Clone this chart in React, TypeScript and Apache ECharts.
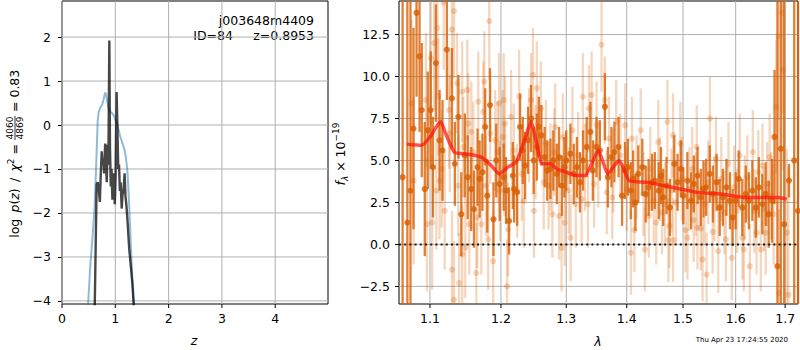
import React, { useEffect, useRef } from "react";
import * as echarts from "echarts";

// ---------- Left panel: log p(z) ----------
const zTicks = [0, 1, 2, 3, 4];
const logpTicks = [-4, -3, -2, -1, 0, 1, 2];
const priorZ = [0.45, 0.49, 0.53, 0.57, 0.61, 0.63, 0.65, 0.67, 0.69, 0.72, 0.75, 0.78, 0.81, 0.83, 0.86, 0.89, 0.93, 0.97, 1.01, 1.05, 1.09, 1.13, 1.17, 1.2, 1.23, 1.26, 1.29, 1.32, 1.345, 1.37];
const priorLogp = [-5, -4.07, -3.2, -2.6, -1.9, -1.3, -0.6, 0.1, 0.3, 0.4, 0.45, 0.58, 0.74, 0.68, 0.45, 0.32, 0.28, 0.22, 0.1, -0.05, -0.25, -0.4, -0.55, -0.75, -1.1, -1.8, -2.7, -3.5, -4.07, -5];
const pzZ = [0.6, 0.615, 0.63, 0.65, 0.67, 0.69, 0.71, 0.725, 0.745, 0.76, 0.775, 0.79, 0.81, 0.825, 0.84, 0.855, 0.87, 0.888, 0.9, 0.915, 0.93, 0.945, 0.96, 0.975, 0.99, 1.005, 1.025, 1.04, 1.055, 1.07, 1.085, 1.1, 1.12, 1.135, 1.155, 1.175, 1.19, 1.21, 1.23, 1.26, 1.29, 1.32, 1.345, 1.36];
const pzLogp = [-5, -4.07, -2.9, -1.35, -1.3, -1.45, -1.75, -1.2, -0.6, -0.9, -0.75, -1.1, -0.42, -0.9, -1.3, -0.45, -0.9, 1.92, -0.5, -1.4, -1.0, -1.7, -1.1, -1.25, -1.8, -1.2, 0.75, -0.1, -1.0, -0.9, -1.5, -1.3, -1.9, -1.6, -1.45, -1.1, -1.6, -1.85, -2.2, -2.8, -3.2, -3.6, -4.07, -5];

// ---------- Right panel: spectrum ----------
const lamTicks = [1.1, 1.2, 1.3, 1.4, 1.5, 1.6, 1.7];
const fluxTicks = [-2.5, 0, 2.5, 5, 7.5, 10, 12.5];
// [lambda, flux, error]
const darkPts: number[][] = [
  [1.0637, 4.0, 20], [1.0699, 1.3, 20], [1.0740, 3.2, 20], [1.078, 6.9, 6], [1.082, 13.8, 5],
  [1.086, 11.2, 4.5], [1.089, 8.0, 4], [1.093, 3.3, 4], [1.097, 6.8, 3.5], [1.101, 8.0, 3.5],
  [1.104, 4.6, 3], [1.108, 10.8, 3.5], [1.113, 6.2, 3], [1.117, 5.6, 3], [1.123, 11.6, 3], [1.130, 8.7, 3],
  [1.134, 4.8, 2.5], [1.139, 7.6, 2.5], [1.143, 1.8, 2.5], [1.148, 5.3, 2.5], [1.152, 4.0, 2.5], [1.157, 3.3, 2.5],
  [1.161, 2.1, 2.3], [1.166, 4.6, 2.3], [1.169, 3.9, 2.3], [1.173, 4.3, 2.3], [1.177, 7.0, 2.3], [1.180, 2.9, 2.2],
  [1.184, 8.3, 2.2], [1.189, 1.5, 2.2], [1.193, 5.0, 2.2], [1.198, 3.6, 2.2], [1.204, 4.0, 2], [1.2075, 3.2, 2],
  [1.212, 1.4, 2], [1.2175, 4.1, 2], [1.2195, 3.3, 2], [1.224, 3.1, 2], [1.2285, 7.0, 2], [1.2325, 5.6, 2],
  [1.236, 4.7, 2], [1.2405, 6.2, 2], [1.245, 7.5, 2], [1.249, 5.0, 2], [1.254, 5.8, 2], [1.257, 7.0, 1.8],
  [1.261, 6.5, 1.8], [1.266, 5.2, 1.8], [1.270, 4.4, 1.8], [1.275, 4.5, 1.8], [1.2795, 5.0, 1.8], [1.285, 4.2, 1.8],
  [1.2885, 5.2, 1.8], [1.293, 3.5, 1.8], [1.297, 4.6, 1.8], [1.300, 5.0, 1.8], [1.3066, 5.4, 1.8], [1.312, 4.2, 1.8],
  [1.317, 4.6, 1.8], [1.322, 3.7, 1.8], [1.327, 5.0, 1.8], [1.333, 5.8, 1.8], [1.339, 6.7, 1.8], [1.343, 4.4, 1.8],
  [1.349, 5.8, 1.8], [1.3546, 5.6, 1.8], [1.363, 8.2, 2], [1.368, 4.0, 1.8], [1.374, 5.2, 1.8], [1.379, 5.5, 1.8],
  [1.386, 5.8, 1.8], [1.392, 2.9, 1.8], [1.397, 4.4, 1.7], [1.402, 4.6, 1.7], [1.407, 3.2, 1.7], [1.411, 3.9, 1.7],
  [1.415, 2.5, 1.7], [1.420, 4.2, 1.7], [1.427, 4.6, 1.7], [1.433, 3.0, 1.7], [1.438, 3.4, 1.7], [1.444, 3.7, 1.7],
  [1.449, 3.8, 1.7], [1.456, 3.2, 1.7], [1.460, 4.1, 1.7], [1.464, 2.8, 1.7], [1.470, 3.5, 1.7], [1.476, 2.2, 1.7],
  [1.484, 4.8, 1.7], [1.490, 3.7, 1.7], [1.496, 4.5, 1.7], [1.5005, 2.9, 1.7], [1.508, 3.8, 1.7], [1.515, 2.6, 1.7],
  [1.520, 3.6, 1.7], [1.527, 4.1, 1.7], [1.533, 2.8, 1.7], [1.538, 3.3, 1.7], [1.543, 3.4, 1.7], [1.550, 4.2, 1.7],
  [1.556, 3.0, 1.7], [1.563, 3.7, 1.7], [1.569, 2.2, 1.7], [1.575, 2.8, 1.7], [1.582, 3.4, 1.7], [1.589, 2.6, 1.7],
  [1.594, 1.6, 1.7], [1.600, 2.6, 1.7], [1.606, 3.9, 1.7], [1.613, 2.2, 1.7], [1.620, 3.0, 1.7], [1.626, 2.6, 1.7],
  [1.633, 3.2, 1.8], [1.640, 2.2, 1.8], [1.646, 3.4, 1.8], [1.653, 2.4, 1.8], [1.660, 3.0, 1.9], [1.666, 1.8, 2],
  [1.673, 2.6, 2.5], [1.678, 6.4, 4], [1.684, -1.3, 25], [1.691, 5.7, 25], [1.698, 1.2, 25],
  [1.708, 3.8, 1.0], [1.719, 5.0, 30], [1.727, 2.0, 30],
];
const lightPts: number[][] = [
  [1.0753, 8.4, 5], [1.0781, 3.8, 5], [1.0945, 8.6, 4], [1.0959, 1.2, 4], [1.1014, 11.1, 4], [1.1029, 1.3, 4],
  [1.1057, 12.0, 4], [1.1086, 3.2, 3.5], [1.110, 12.9, 4], [1.1114, 8.8, 3.5], [1.1129, 3.8, 3.5], [1.116, 4.5, 3.5],
  [1.1186, 14.4, 4], [1.12, 2.0, 3.5], [1.126, 8.0, 3.5], [1.1271, 6.6, 3.5], [1.130, 12.8, 3.5], [1.130, -1.5, 3.5],
  [1.1329, 13.9, 4], [1.1329, -3.3, 3.5], [1.1371, 9.6, 3], [1.1386, 3.5, 3], [1.14, -2.3, 3], [1.1443, 9.1, 3],
  [1.1443, -0.6, 3], [1.1457, 5.8, 3], [1.1486, -0.2, 3], [1.1514, 9.2, 3], [1.1529, 7.2, 3], [1.1543, 1.2, 3],
  [1.1571, 6.7, 3], [1.16, 5.5, 3], [1.1643, -1.7, 3], [1.1657, 1.6, 3], [1.1671, 8.5, 3], [1.1714, 1.2, 3],
  [1.1743, 7.9, 3], [1.1757, 9.7, 3], [1.178, 3.5, 3], [1.1814, 0.3, 3], [1.1829, 13.3, 3.5], [1.1843, 6.6, 3],
  [1.1886, -1.0, 3], [1.1914, 6.2, 3], [1.195, 5.5, 3], [1.1971, 8.4, 3], [1.1986, 3.2, 3],
  [1.2025, 6.4, 2.8], [1.204, 8.6, 2.8], [1.205, 4.5, 2.8], [1.206, 7.2, 2.8], [1.209, -2.5, 2.8], [1.2105, 0.9, 2.8],
  [1.215, 7.6, 2.8], [1.219, 5.6, 2.8], [1.224, 3.2, 2.8], [1.227, 8.8, 2.8], [1.231, 4.2, 2.8], [1.234, 2.6, 2.8],
  [1.242, 6.5, 2.8], [1.245, 8.6, 2.8], [1.248, 10.1, 2.8], [1.2495, 2.0, 2.8], [1.252, 5.5, 2.8], [1.254, 9.3, 2.8],
  [1.260, 8.1, 2.8], [1.2645, 3.7, 2.8], [1.268, 6.0, 2.6], [1.272, 3.5, 2.6], [1.275, 4.6, 2.6], [1.278, 1.8, 2.6],
  [1.281, 5.5, 2.6], [1.2825, 7.0, 2.6], [1.2885, 1.7, 2.6], [1.2925, -0.2, 2.6], [1.2945, 6.4, 2.6], [1.2975, 1.3, 2.6],
  [1.299, 4.1, 2.6], [1.304, 3.2, 2.6], [1.307, 0.4, 2.6], [1.3098, 6.8, 2.6], [1.3152, 2.4, 2.6], [1.319, 5.3, 2.6],
  [1.3246, 2.7, 2.6], [1.3267, 8.8, 2.6], [1.330, 4.6, 2.6], [1.335, 2.4, 2.6], [1.3366, 8.1, 2.6], [1.341, 8.9, 2.6],
  [1.345, 3.6, 2.6], [1.3492, 7.1, 2.6], [1.352, 4.8, 2.6], [1.3574, 11.9, 2.8], [1.3628, 8.6, 2.6], [1.3661, 3.1, 2.5],
  [1.370, 6.3, 2.5], [1.3754, 2.8, 2.5], [1.377, 4.4, 2.5], [1.382, 7.3, 2.5], [1.389, 5.3, 2.5], [1.3972, 7.1, 2.5],
  [1.400, 3.3, 2.5], [1.4073, -0.5, 2.5], [1.409, 6.3, 2.5], [1.4133, 0.85, 2.5], [1.417, 4.0, 2.5], [1.4242, 6.8, 2.5],
  [1.429, 3.0, 2.5], [1.4315, -0.3, 2.5], [1.4387, 1.7, 2.5], [1.441, 4.5, 2.5], [1.447, 2.6, 2.5], [1.4515, 1.3, 2.5],
  [1.4551, 6.1, 2.5], [1.458, 3.9, 2.5], [1.4618, 1.9, 2.5], [1.467, 2.4, 2.5], [1.4715, 7.3, 2.5], [1.4733, 0.25, 2.5],
  [1.4751, 1.1, 2.5], [1.479, 3.2, 2.5], [1.4818, 6.5, 2.5], [1.4818, 0.25, 2.5], [1.487, 2.5, 2.5], [1.4951, 6.0, 2.5],
  [1.498, 3.9, 2.5], [1.5044, 0.85, 2.5], [1.5082, 0.4, 2.5], [1.512, 3.3, 2.5], [1.517, 4.5, 2.5], [1.5197, 1.45, 2.5],
  [1.5235, 3.0, 2.5], [1.5254, 5.8, 2.5], [1.5268, 1.0, 2.5], [1.533, 0.95, 2.5], [1.5363, -0.9, 2.5], [1.540, 2.4, 2.5],
  [1.544, -1.8, 2.5], [1.547, 3.7, 2.5], [1.5503, 7.5, 2.5], [1.5554, 0.75, 2.5], [1.559, 2.7, 2.5], [1.5618, 5.1, 2.5],
  [1.5662, -0.4, 2.5], [1.572, 3.9, 2.5], [1.578, 1.9, 2.5], [1.5809, 0.3, 2.5], [1.586, 4.8, 2.5], [1.5924, -0.8, 2.5],
  [1.597, 3.4, 2.5], [1.603, 2.0, 2.5], [1.608, 5.3, 2.5], [1.6134, 0.4, 2.5], [1.616, -0.3, 2.5], [1.618, 2.8, 2.5],
  [1.623, 4.0, 2.5], [1.628, -1.3, 2.5], [1.634, 5.5, 2.5], [1.637, 2.0, 2.5], [1.6414, 0.7, 2.5], [1.645, 4.3, 2.5],
  [1.65, -0.3, 2.5], [1.6534, 4.7, 2.5], [1.657, 2.1, 2.5], [1.66, 0.7, 2.5], [1.663, 3.6, 2.5], [1.668, 5.2, 2.6],
  [1.671, 2.9, 2.6], [1.676, 1.8, 3], [1.6814, 8.2, 4], [1.686, 12.4, 5], [1.687, -2.9, 5], [1.6934, 13.8, 6],
  [1.696, 10.4, 6], [1.7035, 0.7, 5], [1.707, -3.0, 7.6],
];
const modelLam = [1.0695, 1.0886, 1.1, 1.1143, 1.1214, 1.1333, 1.1476, 1.1714, 1.1857, 1.1976, 1.21, 1.2225, 1.235, 1.245, 1.2525, 1.2625, 1.275, 1.285, 1.3, 1.3164, 1.33, 1.341, 1.352, 1.359, 1.368, 1.379, 1.387, 1.394, 1.404, 1.4345, 1.4648, 1.495, 1.5268, 1.5713, 1.6166, 1.6566, 1.6866, 1.7034];
const modelFlux = [5.96, 5.9, 6.4, 7.3, 6.6, 5.5, 5.4, 5.2, 4.7, 4.2, 4.6, 4.9, 6.2, 7.3, 6.2, 4.8, 4.8, 4.5, 4.3, 4.1, 4.1, 4.8, 5.6, 5.0, 4.2, 4.7, 5.0, 4.6, 3.8, 3.7, 3.5, 3.3, 3.1, 3.0, 2.8, 2.8, 2.8, 2.7];

const FONT = "DejaVu Sans";
const TICK_FS = 12.5;
const GRID_C = "#b0b0b0";
const DARK = "rgba(217,95,2,0.8)";
const LIGHT = "rgba(217,95,2,0.26)";
const minus = (s: string) => s.replace("-", "\u2212");

const L = { left: 62, top: 1, width: 266, height: 303 };
const R = { left: 399, top: 1, width: 399, height: 303 };
const LX = [0, 4.99];
const LY = [-4.07, 2.82];
const RX = [Math.log(1.059), Math.log(1.727)];
const RY = [-3.55, 14.5];

function gridLineSeries(xi: number, vertical: number[], horizontal: number[], xr: number[], yr: number[], z: number) {
  const data: any[] = [];
  vertical.forEach((v) => { data.push([v, yr[0]], [v, yr[1]], [v, null]); });
  horizontal.forEach((v) => { data.push([xr[0], v], [xr[1], v], [null, v]); });
  return {
    type: "line", xAxisIndex: xi, yAxisIndex: xi, z, silent: true, showSymbol: false,
    connectNulls: false, clip: false, data,
    lineStyle: { color: GRID_C, width: 1 },
  };
}

function errSeries(pts: number[][], color: string, z: number, w: number) {
  return {
    type: "custom",
    xAxisIndex: 1,
    yAxisIndex: 1,
    z,
    silent: true,
    data: pts.map((d) => [Math.log(d[0]), d[1], d[2]]),
    renderItem: (params: any, api: any) => {
      const cs = params.coordSys;
      const x = api.value(0), y = api.value(1), e = api.value(2);
      const c = api.coord([x, y]);
      const t = api.coord([x, y + e]);
      const b = api.coord([x, y - e]);
      const y1 = Math.max(t[1], cs.y);
      const y2 = Math.min(b[1], cs.y + cs.height);
      const children: any[] = [];
      if (y2 > y1) children.push({ type: "line", shape: { x1: c[0], y1, x2: c[0], y2 }, style: { stroke: color, lineWidth: w } });
      if (c[1] > cs.y && c[1] < cs.y + cs.height) children.push({ type: "circle", shape: { cx: c[0], cy: c[1], r: 3.1 }, style: { fill: color } });
      return { type: "group", children };
    },
  };
}

export default function App() {
  const ref = useRef<HTMLDivElement>(null);
  useEffect(() => {
    if (!ref.current) return;
    const chart = echarts.init(ref.current, undefined, { renderer: "svg" });
    const axisLabelBase = { fontFamily: FONT, fontSize: TICK_FS, color: "#000" };
    const tickBase = { show: true, inside: false, length: 4, lineStyle: { color: "#000", width: 1 } };
    const noLine = { show: false, onZero: false };
    const txt = (x: number, y: number, text: string, extra: any = {}) => ({
      type: "text", x, y, silent: true,
      style: { text, fontFamily: FONT, fontSize: TICK_FS, fill: "#000", align: "center", textAlign: "center", verticalAlign: "middle", textVerticalAlign: "middle", ...extra },
    });
    const baseGraphic: any[] = [
      txt(314, 20, "j003648m4409", { align: "right", textAlign: "right" }),
      txt(233, 35, "ID=84", { align: "right", textAlign: "right" }),
      txt(314, 35, "z=0.8953", { align: "right", textAlign: "right" }),
      txt(194, 340, "z", { fontStyle: "italic" }),
      txt(598, 341, "λ", { fontStyle: "italic" }),
      txt(788, 339.5, "Thu Apr 23 17:24:55 2020", { align: "right", textAlign: "right", fontSize: 7 }),
      {
        type: "group", x: 14.5, y: 128, rotation: Math.PI / 2, silent: true,
        children: [
          {
            type: "text", x: -16, y: 0,
            style: {
              text: "{r|log\u2002}{i|p}{r|(}{i|z}{r|)\u2002/\u2002}{i|χ}{s|2}{r| =}",
              align: "right", textAlign: "right", verticalAlign: "middle", textVerticalAlign: "middle", fill: "#000",
              rich: {
                r: { fontFamily: FONT, fontSize: TICK_FS, lineHeight: 16, fill: "#000" },
                i: { fontFamily: FONT, fontSize: TICK_FS, lineHeight: 16, fontStyle: "italic", fill: "#000" },
                s: { fontFamily: FONT, fontSize: 9, lineHeight: 10, verticalAlign: "top", fill: "#000" },
              },
            },
          },
          { type: "text", x: 0, y: -4.2, style: { text: "4060", fontFamily: FONT, fontSize: 9, fill: "#000", align: "center", textAlign: "center", verticalAlign: "middle", textVerticalAlign: "middle" } },
          { type: "line", shape: { x1: -12, y1: 0.5, x2: 12, y2: 0.5 }, style: { stroke: "#000", lineWidth: 0.8 } },
          { type: "text", x: 0, y: 5.2, style: { text: "4869", fontFamily: FONT, fontSize: 9, fill: "#000", align: "center", textAlign: "center", verticalAlign: "middle", textVerticalAlign: "middle" } },
          { type: "text", x: 16, y: 0, style: { text: "= 0.83", fontFamily: FONT, fontSize: TICK_FS, fill: "#000", align: "left", textAlign: "left", verticalAlign: "middle", textVerticalAlign: "middle" } },
        ],
      },
      {
        type: "group", x: 340, y: 154, rotation: Math.PI / 2, silent: true,
        children: [
          {
            type: "text", x: 0, y: 0,
            style: {
              text: "{i|f}{b|λ}{r| × 10}{s|−19}",
              align: "center", textAlign: "center", verticalAlign: "middle", textVerticalAlign: "middle", fill: "#000",
              rich: {
                r: { fontFamily: FONT, fontSize: TICK_FS, lineHeight: 18, fill: "#000" },
                i: { fontFamily: FONT, fontSize: TICK_FS, lineHeight: 18, fontStyle: "italic", fill: "#000" },
                s: { fontFamily: FONT, fontSize: 9, lineHeight: 11, verticalAlign: "top", fill: "#000" },
                b: { fontFamily: FONT, fontSize: 9, lineHeight: 11, verticalAlign: "bottom", fontStyle: "italic", fill: "#000" },
              },
            },
          },
        ],
      },
    ];
    const option: any = {
      animation: false,
      grid: [
        { ...L, show: true, borderColor: "#000", borderWidth: 1 },
        { ...R, show: true, borderColor: "#000", borderWidth: 1 },
      ],
      xAxis: [
        {
          type: "value", gridIndex: 0, min: LX[0], max: LX[1],
          splitLine: { show: false }, axisLine: noLine, axisTick: { show: false },
          axisLabel: { ...axisLabelBase, margin: 8, customValues: zTicks, formatter: (v: number) => String(Math.round(v)) },
        },
        {
          type: "value", gridIndex: 1, min: RX[0], max: RX[1],
          splitLine: { show: false }, axisLine: noLine, axisTick: { show: false },
          axisLabel: { ...axisLabelBase, margin: 8, customValues: lamTicks.map(Math.log), formatter: (v: number) => Math.exp(v).toFixed(1) },
        },
      ],
      yAxis: [
        {
          type: "value", gridIndex: 0, min: LY[0], max: LY[1],
          splitLine: { show: false }, axisLine: noLine,
          axisTick: { ...tickBase, customValues: logpTicks },
          axisLabel: { ...axisLabelBase, margin: 11, customValues: logpTicks, formatter: (v: number) => minus(String(Math.round(v))) },
        },
        {
          type: "value", gridIndex: 1, min: RY[0], max: RY[1],
          splitLine: { show: false }, axisLine: noLine,
          axisTick: { ...tickBase, customValues: fluxTicks },
          axisLabel: { ...axisLabelBase, margin: 9, customValues: fluxTicks, formatter: (v: number) => minus(v.toFixed(1)) },
        },
      ],
      series: [
        gridLineSeries(1, lamTicks.map(Math.log), fluxTicks, RX, RY, 1),
        {
          type: "line", xAxisIndex: 0, yAxisIndex: 0, z: 3, showSymbol: false, silent: true,
          data: priorZ.map((z, i) => [z, priorLogp[i]]),
          lineStyle: { color: "rgba(31,119,180,0.5)", width: 2 },
        },
        {
          type: "line", xAxisIndex: 0, yAxisIndex: 0, z: 4, showSymbol: false, silent: true,
          data: pzZ.map((z, i) => [z, pzLogp[i]]),
          lineStyle: { color: "rgba(0,0,0,0.72)", width: 2.4 },
        },
        errSeries(lightPts, LIGHT, 2, 2.3),
        errSeries(darkPts, DARK, 3, 2.3),
        {
          type: "line", xAxisIndex: 1, yAxisIndex: 1, z: 5, showSymbol: false, silent: true, smooth: 0.2,
          data: modelLam.map((l, i) => [Math.log(l), modelFlux[i]]),
          lineStyle: { color: "rgba(255,20,10,0.72)", width: 3.5 },
        },
        {
          type: "line", xAxisIndex: 1, yAxisIndex: 1, z: 6, showSymbol: false, silent: true,
          data: [[RX[0], 0], [RX[1], 0]],
          lineStyle: { color: "rgba(0,0,0,0.85)", width: 2, type: [2, 3.2] },
        },
      ],
      graphic: baseGraphic,
    };
    chart.setOption(option);

    // left-panel grid lines and bottom ticks of both panels, placed through the chart's own scales
    const extra: any[] = [];
    const toPx = (gi: number, x: number, y: number) => chart.convertToPixel({ gridIndex: gi } as any, [x, y]) as number[];
    zTicks.forEach((v) => {
      const a = toPx(0, v, LY[0]), b = toPx(0, v, LY[1]);
      extra.push({ type: "line", z: 1, silent: true, shape: { x1: a[0], y1: a[1], x2: b[0], y2: b[1] }, style: { stroke: GRID_C, lineWidth: 1 } });
      extra.push({ type: "line", z: 1, silent: true, shape: { x1: a[0], y1: a[1], x2: a[0], y2: a[1] + 4 }, style: { stroke: "#000", lineWidth: 1 } });
    });
    logpTicks.forEach((v) => {
      const a = toPx(0, LX[0], v), b = toPx(0, LX[1], v);
      extra.push({ type: "line", z: 1, silent: true, shape: { x1: a[0], y1: a[1], x2: b[0], y2: b[1] }, style: { stroke: GRID_C, lineWidth: 1 } });
    });
    lamTicks.forEach((l) => {
      const a = toPx(1, Math.log(l), RY[0]);
      extra.push({ type: "line", z: 1, silent: true, shape: { x1: a[0], y1: a[1], x2: a[0], y2: a[1] + 4 }, style: { stroke: "#000", lineWidth: 1 } });
    });
    option.graphic = [...baseGraphic, ...extra];
    chart.setOption(option, true);
    return () => chart.dispose();
  }, []);
  return <div ref={ref} style={{ position: "fixed", left: 0, top: 0, width: 800, height: 350, background: "#fff" }} />;
}
